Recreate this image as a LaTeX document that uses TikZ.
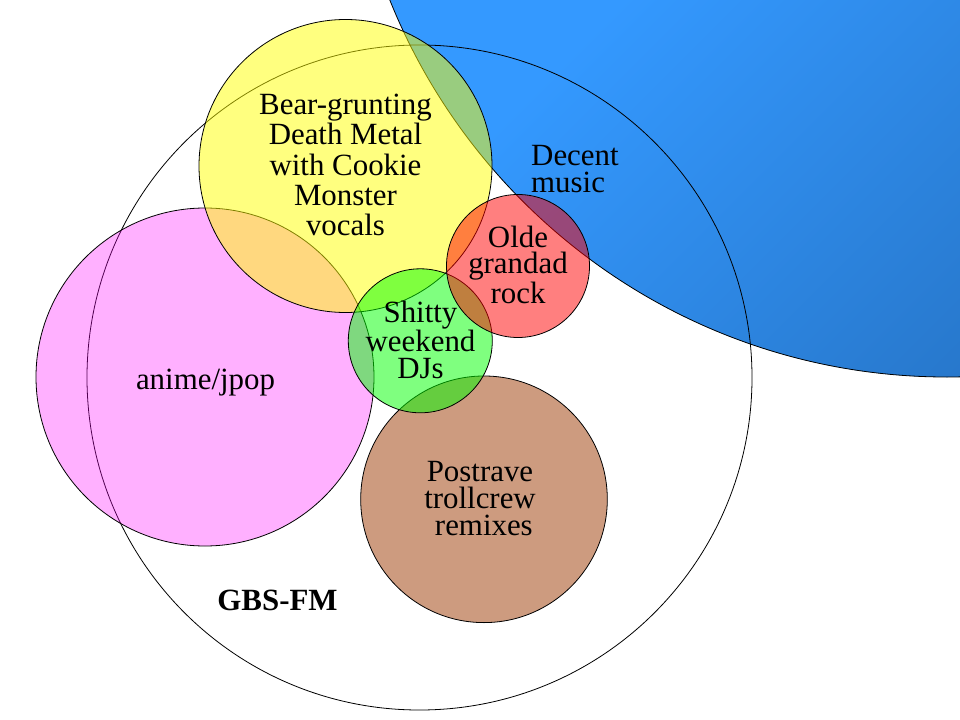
\documentclass[tikz,border=0pt]{standalone}
\usepackage{fontspec}
\setmainfont{Liberation Serif}
\usetikzlibrary{shapes}
\definecolor{decentlight}{RGB}{52,153,255}
\definecolor{decentdark}{RGB}{38,116,198}
\definecolor{metalyellow}{RGB}{255,255,0}
\definecolor{animepink}{RGB}{255,0,255}
\definecolor{djgreen}{RGB}{0,255,0}
\definecolor{oldered}{RGB}{255,0,0}
\definecolor{trollbrown}{RGB}{155,55,0}
\tikzstyle{ring} = [circle, draw, inner sep=0pt, line width=0.8pt]
\tikzstyle{blob} = [ring, fill opacity=0.5]
\tikzstyle{txt} = [inner sep=0pt, align=center, font=\fontsize{31}{27}\selectfont]
\begin{document}
\begin{tikzpicture}[x=1bp, y=-1bp]
    \useasboundingbox (0,0) rectangle (960,720);

    % decent music, shaded inside its circle
    \begin{scope}
      \clip (947,-223) circle (600);
      \fill [decentlight] (380,-10) rectangle (970,390);
      \shade [top color=decentlight, middle color=decentlight, bottom color=decentdark, shading angle=45] (477,-23) rectangle (1043,543);
    \end{scope}
    \node [ring, minimum size=1200bp] (decent) at (947,-223) {};

    \node [ring, minimum size=665bp] (gbs) at (419.5,377.5) {};

    \node [blob, fill=animepink, fill opacity=0.31, minimum size=338bp] (anime) at (205,377) {};
    \node [blob, fill=metalyellow, minimum size=293bp] (metal) at (345.5,166) {};
    \node [blob, fill=trollbrown, minimum size=246.6bp] (troll) at (484,499.3) {};
    \node [blob, fill=djgreen, minimum size=144bp] (djs) at (420.3,340.8) {};
    \node [blob, fill=oldered, minimum size=143bp] (olde) at (518,266) {};

    \node [txt, font=\fontsize{31}{30.25}\selectfont] (metalText) at (345.5,165) {Bear-grunting\\Death Metal\\with Cookie\\Monster\\vocals};
    \node [txt, align=left, anchor=west] (decentText) at (531,169) {Decent\\music};
    \node [txt] (oldeText) at (518,264.5) {Olde\\grandad\\rock};
    \node [txt] (djsText) at (420.5,339.5) {Shitty\\weekend\\DJs};
    \node [txt] (trollText) at (480,498.5) {Postrave\\trollcrew\\\hspace*{0.25em}remixes};
    \node [txt, anchor=base] (animeText) at (205.5,389.3) {anime/jpop};
    \node [txt, anchor=base, font=\fontsize{31}{27}\selectfont\bfseries] (gbsText) at (277.5,610.7) {GBS-FM};

\end{tikzpicture}
\end{document}
